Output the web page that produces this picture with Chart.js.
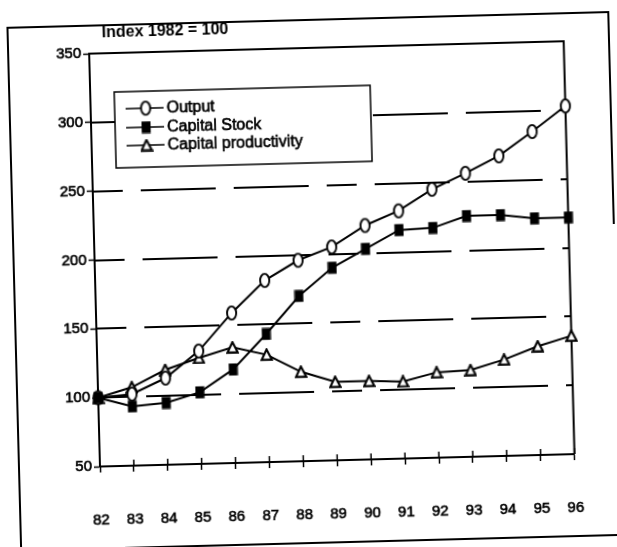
<!DOCTYPE html>
<html>
<head>
<meta charset="utf-8">
<script src="https://cdn.jsdelivr.net/npm/chart.js@4.4.1/dist/chart.umd.min.js"></script>
<style>
  html, body { margin: 0; padding: 0; background: #fff; overflow: hidden; }
  #sheet { width: 617px; height: 547px; transform: rotate(-1.5deg); transform-origin: 308.5px 273.5px; }
  canvas { display: block; }
</style>
</head>
<body>
<div id="sheet"><canvas id="chart" width="617" height="547"></canvas></div>
<script>
// Years (1982 = 100 base)
const years = ['82', '83', '84', '85', '86', '87', '88', '89', '90', '91', '92', '93', '94', '95', '96'];
const output = [100, 102, 113, 132, 159, 182, 196, 205, 220, 230, 245, 256, 268, 285, 303];
const capitalStock = [100, 93, 95, 102, 118, 143, 170, 190, 203, 216, 217, 225, 225, 222, 222];
const capitalProductivity = [100, 107, 119, 127, 134, 128, 115, 107, 107, 106, 112, 113, 120, 129, 136];
const seriesNames = ['Output', 'Capital Stock', 'Capital productivity'];
const titleText = 'Index 1982 = 100';
const yTicks = [50, 100, 150, 200, 250, 300, 350];
const gridValues = [100, 150, 200, 250, 300];

const FONT = '"Liberation Sans", Arial, Helvetica, sans-serif';

// Marker glyphs
function makeOval() {
  const c = document.createElement('canvas');
  c.width = 13; c.height = 17;
  const g = c.getContext('2d');
  g.beginPath();
  g.ellipse(6.5, 8.5, 4.6, 6.6, 0, 0, Math.PI * 2);
  g.fillStyle = '#fff'; g.fill();
  g.lineWidth = 1.9; g.strokeStyle = '#000'; g.stroke();
  return c;
}
function makeSquare() {
  const c = document.createElement('canvas');
  c.width = 10; c.height = 13;
  const g = c.getContext('2d');
  g.fillStyle = '#000';
  g.fillRect(0.5, 0.5, 9, 12);
  return c;
}
function makeTriangle() {
  const c = document.createElement('canvas');
  c.width = 13; c.height = 13;
  const g = c.getContext('2d');
  g.beginPath();
  g.moveTo(6.5, 1.2); g.lineTo(11.6, 11.6); g.lineTo(1.4, 11.6); g.closePath();
  g.fillStyle = '#fff'; g.fill();
  g.lineWidth = 2.1; g.strokeStyle = '#000'; g.lineJoin = 'miter'; g.stroke();
  return c;
}
const markers = [makeOval(), makeSquare(), makeTriangle()];

function series(label, data, marker, order) {
  return {
    label, data, order,
    borderColor: '#000', borderWidth: 2, tension: 0, fill: false,
    pointStyle: marker, pointRadius: 6, pointHoverRadius: 6,
    clip: false
  };
}

function boldishText(ctx, text, x, y) {
  ctx.fillText(text, x, y);
  ctx.lineWidth = 0.6;
  ctx.strokeStyle = '#000';
  ctx.strokeText(text, x, y);
}

// Frame, title, dashed grid, plot box, inner x ticks and legend box
const decorations = {
  id: 'decorations',
  beforeDatasetsDraw(chart) {
    const { ctx, chartArea: a } = chart;
    const ys = chart.scales.y;
    ctx.save();
    ctx.strokeStyle = '#000';
    // dashed horizontal grid: short, long, long dash cycle
    ctx.lineWidth = 1.8;
    ctx.setLineDash([30, 18, 75, 18, 75, 18]);
    ctx.lineDashOffset = 0;
    gridValues.forEach(v => {
      const py = Math.round(ys.getPixelForValue(v));
      ctx.beginPath();
      ctx.moveTo(a.left, py); ctx.lineTo(a.right, py);
      ctx.stroke();
    });
    ctx.setLineDash([]);
    // plot box top and right
    ctx.lineWidth = 2;
    ctx.beginPath();
    ctx.moveTo(a.left, a.top); ctx.lineTo(a.right, a.top); ctx.lineTo(a.right, a.bottom);
    ctx.stroke();
    // upper half of the crossing x ticks
    const xs = chart.scales.x;
    ctx.lineWidth = 1.5;
    ctx.beginPath();
    for (let i = 0; i < years.length; i++) {
      const px = xs.getPixelForTick(i);
      ctx.moveTo(px, a.bottom); ctx.lineTo(px, a.bottom - 6);
    }
    ctx.stroke();
    ctx.restore();
  },
  afterDraw(chart) {
    const { ctx } = chart;
    ctx.save();
    // outer frame
    ctx.strokeStyle = '#000';
    ctx.lineWidth = 2;
    ctx.beginPath();
    ctx.moveTo(14, 547); ctx.lineTo(14, 20); ctx.lineTo(615, 20); ctx.lineTo(615, 232);
    ctx.moveTo(118, 543); ctx.lineTo(617, 543);
    ctx.stroke();
    // title
    ctx.fillStyle = '#000';
    ctx.font = 'bold 16px ' + FONT;
    ctx.textBaseline = 'middle';
    ctx.textAlign = 'left';
    ctx.fillText(titleText, 108, 28);
    // legend
    const box = { x: 119, y: 87, w: 256, h: 76 };
    ctx.fillStyle = '#fff';
    ctx.fillRect(box.x, box.y, box.w, box.h);
    ctx.lineWidth = 1.5;
    ctx.strokeStyle = '#000';
    ctx.strokeRect(box.x, box.y, box.w, box.h);
    const rows = [104, 123, 141];
    chart.data.datasets.forEach((ds, i) => {
      const y = rows[i];
      ctx.beginPath();
      ctx.lineWidth = 1.6;
      ctx.strokeStyle = '#000';
      ctx.moveTo(130, y); ctx.lineTo(168, y);
      ctx.stroke();
      const m = ds.pointStyle;
      ctx.drawImage(m, 150 - m.width / 2, y - m.height / 2);
      ctx.fillStyle = '#000';
      ctx.font = '16px ' + FONT;
      ctx.textBaseline = 'middle';
      boldishText(ctx, ds.label, 171, y + 0.5);
    });
    ctx.restore();
  }
};

new Chart(document.getElementById('chart'), {
  type: 'line',
  data: {
    labels: years,
    datasets: [
      series(seriesNames[0], output, markers[0], 1),
      series(seriesNames[1], capitalStock, markers[1], 0),
      series(seriesNames[2], capitalProductivity, markers[2], 2)
    ]
  },
  options: {
    responsive: false,
    animation: false,
    devicePixelRatio: 1,
    layout: { padding: { top: 48, right: 17, left: 0, bottom: 0 } },
    plugins: { legend: { display: false }, title: { display: false }, tooltip: { enabled: false } },
    events: [],
    scales: {
      x: {
        type: 'category',
        offset: false,
        border: { display: true, color: '#000', width: 2 },
        grid: { display: true, drawOnChartArea: false, drawTicks: true, tickLength: 6, tickColor: '#000', tickWidth: 1.5 },
        ticks: { color: '#000', font: { family: FONT, size: 15 }, padding: 39, maxRotation: 0, autoSkip: false,
                 textStrokeColor: '#000', textStrokeWidth: 0.6 },
        afterFit(scale) { scale.height = 86; }
      },
      y: {
        min: 50, max: 350,
        afterBuildTicks(scale) { scale.ticks = yTicks.map(v => ({ value: v })); },
        border: { display: true, color: '#000', width: 2 },
        grid: { display: true, drawOnChartArea: false, drawTicks: true, tickLength: 6, tickColor: '#000', tickWidth: 1.5 },
        ticks: { color: '#000', font: { family: FONT, size: 15 }, padding: 2,
                 textStrokeColor: '#000', textStrokeWidth: 0.6 },
        afterFit(scale) { scale.width = 95; }
      }
    }
  },
  plugins: [decorations]
});
</script>
</body>
</html>
